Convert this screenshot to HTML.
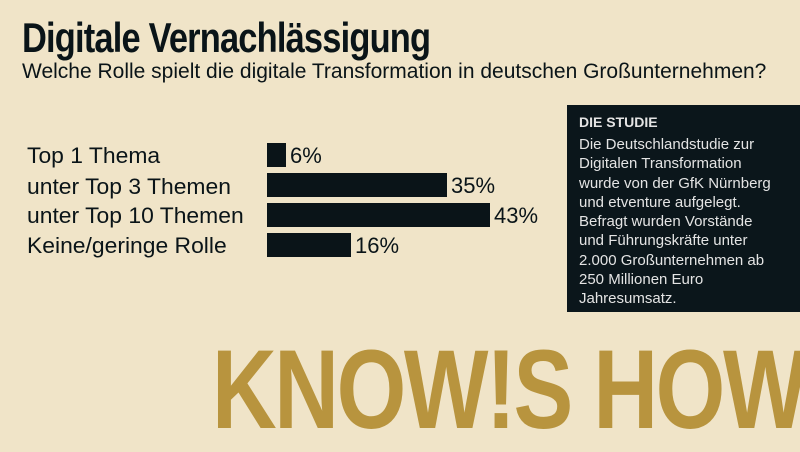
<!DOCTYPE html>
<html><head><meta charset="utf-8"><style>
body{margin:0;width:800px;height:419px;overflow:hidden;background:#f0e4c8;position:relative;font-family:"Liberation Sans",sans-serif;color:#0a1418}
div{position:absolute;white-space:nowrap}
.t{left:22px;top:14px;font-size:42px;font-weight:bold;letter-spacing:-1px;transform:scaleX(0.82);transform-origin:left}
.s{left:22px;top:60px;font-size:21px}
.l{left:27px;font-size:22px;transform:scaleX(1.04);transform-origin:left}
.b{left:267px;background:#0a1418;height:24px}
.v{font-size:22px}
.box{left:567px;top:105px;width:233px;height:207px;background:#0b161b;color:#e4e4e4}
.k{left:212px;top:334px;font-size:112px;font-weight:bold;color:#b8943e;letter-spacing:-3px;line-height:1;transform:scaleX(0.8);transform-origin:left}
</style></head><body>
<div class="t">Digitale Vernachlässigung</div>
<div class="s">Welche Rolle spielt die digitale Transformation in deutschen Großunternehmen?</div>
<div class="l" style="top:143px">Top 1 Thema</div>
<div class="l" style="top:174px">unter Top 3 Themen</div>
<div class="l" style="top:203px">unter Top 10 Themen</div>
<div class="l" style="top:233px">Keine/geringe Rolle</div>
<div class="b" style="top:143px;width:19px"></div>
<div class="b" style="top:173px;width:180px"></div>
<div class="b" style="top:203px;width:223px"></div>
<div class="b" style="top:233px;width:84px"></div>
<div class="v" style="left:290px;top:143px">6%</div>
<div class="v" style="left:451px;top:173px">35%</div>
<div class="v" style="left:494px;top:203px">43%</div>
<div class="v" style="left:355px;top:233px">16%</div>
<div class="box">
<div style="left:12px;top:9px;font-size:14px;font-weight:bold">DIE STUDIE</div>
<div style="left:12px;top:30px;font-size:15px;line-height:19.3px">Die Deutschlandstudie zur<br>Digitalen Transformation<br>wurde von der GfK Nürnberg<br>und etventure aufgelegt.<br>Befragt wurden Vorstände<br>und Führungskräfte unter<br>2.000 Großunternehmen ab<br>250 Millionen Euro<br>Jahresumsatz.</div>
</div>
<div class="k">KNOW!S HOW</div>
</body></html>
